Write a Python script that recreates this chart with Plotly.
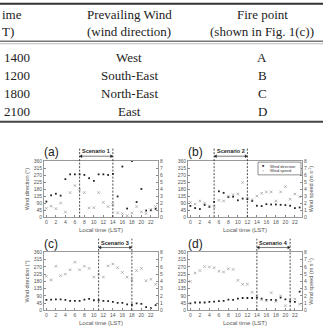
import plotly.graph_objects as go

W, H = 323, 335

# ---------------- table data ----------------
hdr_col1 = ["ime", "T)"]
hdr_col2 = ["Prevailing Wind", "(wind direction)"]
hdr_col3 = ["Fire point", "(shown in Fig. 1(c))"]
end_times = ["1400", "1200", "1800", "2100"]
prevailing_wind = ["West", "South-East", "North-East", "East"]
fire_points = ["A", "B", "C", "D"]

# ---------------- chart data ----------------
hours = list(range(24))
x_ticks = list(range(0, 23, 2))
dir_ticks = list(range(0, 361, 45))
spd_ticks = list(range(0, 9))

scen_names = ["Scenario 1", "Scenario 2", "Scenario 3", "Scenario 4"]
scen_start = [7, 5, 11, 14]
scen_end = [14, 12, 18, 21]
panel_labels = ["(a)", "(b)", "(c)", "(d)"]

dir_a = [100, 140, 150, 138, 244, 275, 275, 275, 271, 250, 233, 275,
         275, 271, 278, 133, 325, 55, 360, 97, 181, 42, 44, 53]
spd_a = [1.25, 1.55, 1.2, 2.0, 0.7, 3.5, 4.5, 3.9, 3.5, 1.3, 1.35, 3.5,
         2.1, 1.5, 1.8, 0.6, 0.5, 0.2, 0.6, 1.5, 0.75, 0.5, 1.1, 1.5]

dir_b = [72, 58, 52, 78, 66, 98, 166, 156, 129, 131, 108, 119,
         115, 104, 73, 71, 83, 81, 81, 79, 77, 73, 58, 62]
spd_b = [2.1, 1.85, 2.3, 2.0, 1.6, 1.5, 2.4, 2.3, 3.0, 3.2, 3.3, 4.95,
         2.7, 2.5, 3.0, 3.4, 3.6, 3.6, 2.3, 3.6, 4.35, 2.55, 3.3, 2.9]

dir_c = [65, 67, 69, 69, 65, 59, 59, 59, 67, 71, 63, 63,
         59, 57, 53, 47, 47, 37, 35, 43, 41, 20, 14, 33]
spd_c = [4.7, 4.2, 6.1, 4.8, 5.0, 5.6, 6.65, 5.6, 6.1, 5.8, 4.6, 5.0,
         4.6, 6.15, 6.4, 5.9, 5.25, 4.6, 4.2, 5.5, 5.8, 4.1, 4.3, 3.6]

dir_d = [43, 49, 49, 49, 53, 55, 57, 59, 67, 65, 73, 77,
         77, 77, 79, 73, 65, 65, 63, 79, 69, 57, 53, 116]
spd_d = [4.0, 5.15, 5.5, 6.05, 6.0, 5.9, 5.4, 5.3, 5.75, 5.65, 4.15, 3.6,
         3.6, 2.5, 2.0, 1.45, 1.3, 2.45, 1.25, 2.0, 0.65, 1.45, 1.55, 0.85]

directions = [dir_a, dir_b, dir_c, dir_d]
speeds = [spd_a, spd_b, spd_c, spd_d]

# panel boxes in page pixels (left, right, top, bottom)
boxes = [(44, 158, 161, 218), (188, 302, 161, 218),
         (44, 158, 254, 313), (188, 302, 254, 313)]


def fx(x):
    return x / W


def fy(y):
    return 1 - y / H


fig = go.Figure()
layout = dict(
    width=W, height=H, margin=dict(l=0, r=0, t=0, b=0),
    paper_bgcolor="white", plot_bgcolor="white", showlegend=False,
    font=dict(family="Liberation Sans, Arial, sans-serif", color="#333"),
)
shapes = []
annotations = []

tick_font = dict(size=5, color="#555", family="Liberation Sans, Arial")
title_font = dict(size=5.5, color="#555", family="Liberation Sans, Arial")
dash_style = "2px,1.5px"

for i in range(4):
    l, r, t, b = boxes[i]
    xid = "x" if i == 0 else f"x{i+1}"
    xkey = "xaxis" if i == 0 else f"xaxis{i+1}"
    yl = 2 * i + 1
    yr = 2 * i + 2
    ylid = "y" if yl == 1 else f"y{yl}"
    yrid = f"y{yr}"
    ylkey = "yaxis" if yl == 1 else f"yaxis{yl}"
    yrkey = f"yaxis{yr}"

    layout[xkey] = dict(
        domain=[fx(l), fx(r)], anchor=ylid, range=[-0.5, 23.5],
        tickvals=x_ticks, ticks="inside", ticklen=2, tickwidth=0.6,
        tickcolor="#888", showline=True, linecolor="#999", linewidth=0.8,
        mirror=True, showgrid=False, zeroline=False, tickfont=tick_font,
        title=dict(text="Local time (LST)", font=dict(size=6, color="#555"),
                   standoff=3),
    )
    yl_axis = dict(
        domain=[fy(b), fy(t)], anchor=xid, range=[0, 360],
        tickvals=dir_ticks, ticks="inside", ticklen=2, tickwidth=0.6,
        tickcolor="#888", showline=True, linecolor="#999", linewidth=0.8,
        showgrid=False, zeroline=False, tickfont=tick_font,
    )
    if i in (0, 2):
        yl_axis["title"] = dict(text="Wind direction (°)", font=title_font,
                                standoff=3)
    layout[ylkey] = yl_axis
    yr_axis = dict(
        domain=[fy(b), fy(t)], anchor=xid, overlaying=ylid, side="right",
        range=[0, 8], tickvals=spd_ticks, ticks="inside", ticklen=2,
        tickwidth=0.6, tickcolor="#888", showline=True, linecolor="#999",
        linewidth=0.8, showgrid=False, zeroline=False, tickfont=tick_font,
    )
    if i in (1, 3):
        yr_axis["title"] = dict(text="Wind speed (m s<sup>-1</sup>)",
                                font=title_font, standoff=3)
    layout[yrkey] = yr_axis

    fig.add_trace(go.Scatter(
        x=hours, y=directions[i], xaxis=xid, yaxis=ylid, mode="markers",
        name="Wind direction",
        marker=dict(symbol="square", size=1.8, color="#222",
                    line=dict(width=0)),
    ))
    fig.add_trace(go.Scatter(
        x=hours, y=speeds[i], xaxis=xid, yaxis=yrid, mode="markers",
        name="Wind speed",
        marker=dict(symbol="x-thin", size=2.6,
                    line=dict(color="#999", width=0.7)),
    ))

    # scenario dashed bounds
    for tx in (scen_start[i], scen_end[i]):
        shapes.append(dict(type="line", xref=xid, yref="paper",
                           x0=tx, x1=tx, y0=fy(b), y1=fy(t - 14),
                           line=dict(color="#222", width=0.8,
                                     dash=dash_style)))
    # double-headed arrow: shaft + two heads
    ya = fy(t - 5)
    hh = 1.6 / H
    hw = 0.5
    shapes.append(dict(type="line", xref=xid, yref="paper",
                       x0=scen_start[i], x1=scen_end[i], y0=ya, y1=ya,
                       line=dict(color="#222", width=0.6)))
    s0, s1 = scen_start[i], scen_end[i]
    shapes.append(dict(
        type="path", xref=xid, yref="paper",
        path=(f"M{s0},{ya} L{s0 + hw},{ya + hh} L{s0 + hw},{ya - hh} Z "
              f"M{s1},{ya} L{s1 - hw},{ya + hh} L{s1 - hw},{ya - hh} Z"),
        fillcolor="#222", line=dict(color="#222", width=0.3)))
    annotations.append(dict(
        x=(scen_start[i] + scen_end[i]) / 2, xref=xid, y=fy(t - 10),
        yref="paper", text=f"<b>{scen_names[i]}</b>", showarrow=False,
        font=dict(size=5.5, color="#222"), xanchor="center",
        yanchor="middle",
    ))
    annotations.append(dict(
        x=fx(l - 2), xref="paper", y=fy(t - 9), yref="paper",
        text=panel_labels[i], showarrow=False, xanchor="left",
        yanchor="middle", font=dict(size=12, color="#222"),
    ))

# manual legend in panel (b)
lg_l, lg_r, lg_t, lg_b = 258, 301, 162, 175
shapes.append(dict(type="rect", xref="paper", yref="paper",
                   x0=fx(lg_l), x1=fx(lg_r), y0=fy(lg_b), y1=fy(lg_t),
                   line=dict(color="#444", width=0.6), fillcolor="white"))
leg_items = [("■", "#222", "Wind direction"), ("×", "#888", "Wind speed")]
for k, (sym, col, lab) in enumerate(leg_items):
    yy = fy(lg_t + 4 + k * 5)
    annotations.append(dict(x=fx(263), xref="paper", y=yy, yref="paper",
                            text=sym, showarrow=False, xanchor="center",
                            yanchor="middle", font=dict(size=3.5, color=col)))
    annotations.append(dict(x=fx(268), xref="paper", y=yy, yref="paper",
                            text=lab, showarrow=False, xanchor="left",
                            yanchor="middle",
                            font=dict(size=4, color="#333")))

# ---------------- table ----------------
serif = "Liberation Serif, Times New Roman, serif"
tf = dict(size=13, color="#222", family=serif)
col_x = [0, 129, 262]
hdr_y = [12, 29]
row_y = [56, 74, 92, 110]
for k in range(2):
    annotations.append(dict(x=fx(col_x[0]), xref="paper", y=fy(hdr_y[k]),
                            yref="paper", text=hdr_col1[k], showarrow=False,
                            xanchor="left", yanchor="middle", font=tf))
    annotations.append(dict(x=fx(col_x[1]), xref="paper", y=fy(hdr_y[k]),
                            yref="paper", text=hdr_col2[k], showarrow=False,
                            xanchor="center", yanchor="middle", font=tf))
    annotations.append(dict(x=fx(col_x[2]), xref="paper", y=fy(hdr_y[k]),
                            yref="paper", text=hdr_col3[k], showarrow=False,
                            xanchor="center", yanchor="middle", font=tf))
for k in range(4):
    annotations.append(dict(x=fx(2), xref="paper", y=fy(row_y[k]),
                            yref="paper", text=end_times[k], showarrow=False,
                            xanchor="left", yanchor="middle", font=tf))
    annotations.append(dict(x=fx(col_x[1]), xref="paper", y=fy(row_y[k]),
                            yref="paper", text=prevailing_wind[k],
                            showarrow=False, xanchor="center",
                            yanchor="middle", font=tf))
    annotations.append(dict(x=fx(col_x[2]), xref="paper", y=fy(row_y[k]),
                            yref="paper", text=fire_points[k],
                            showarrow=False, xanchor="center",
                            yanchor="middle", font=tf))

shapes.append(dict(type="line", xref="paper", yref="paper", x0=0, x1=1,
                   y0=fy(0.8), y1=fy(0.8), line=dict(color="#333", width=2)))
shapes.append(dict(type="line", xref="paper", yref="paper", x0=0, x1=1,
                   y0=fy(39), y1=fy(39), line=dict(color="#777", width=1.5)))
shapes.append(dict(type="line", xref="paper", yref="paper", x0=0, x1=1,
                   y0=fy(41.5), y1=fy(41.5), line=dict(color="#bbb", width=1)))
shapes.append(dict(type="line", xref="paper", yref="paper", x0=0, x1=1,
                   y0=fy(121), y1=fy(121), line=dict(color="#444", width=2)))

layout["shapes"] = shapes
layout["annotations"] = annotations
fig.update_layout(**layout)
fig.write_html("out.html")
